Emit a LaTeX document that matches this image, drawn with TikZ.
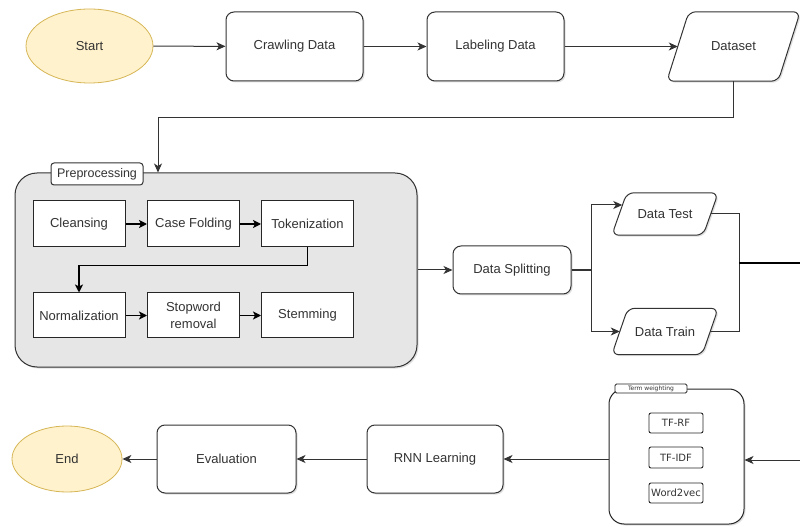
\documentclass[tikz,border=0pt]{standalone}
\usepackage{fontspec}
\setmainfont{Liberation Sans}
\newfontfamily\hand{DejaVu Sans}
\usetikzlibrary{arrows.meta,shadows,backgrounds,shapes.geometric}
\definecolor{startfill}{HTML}{FFF2CC}
\definecolor{startdraw}{HTML}{D6B656}
\definecolor{prepfill}{HTML}{E6E6E6}
\definecolor{txt}{HTML}{333333}
\tikzset{
  shad/.style={drop shadow={opacity=0.25,shadow xshift=1.5pt,shadow yshift=-1.5pt}},
  procbox/.style={rectangle,rounded corners=8pt,draw=black!80,line width=1pt,fill=white,
    inner sep=0pt,font=\fontsize{13}{15}\selectfont,text=txt,shad},
  termbox/.style={ellipse,fill=startfill,draw=startdraw,line width=0.8pt,inner sep=0pt,
    font=\fontsize{13}{15}\selectfont,text=txt},
  iotext/.style={rectangle,inner sep=0pt,font=\fontsize{13}{15}\selectfont,text=txt},
  ioshape/.style={rounded corners=7pt,draw=black!80,line width=1pt,fill=white,shad},
  innerbox/.style={rectangle,draw=black!85,line width=1pt,fill=white,inner sep=0pt,
    font=\fontsize{13}{15}\selectfont,text=txt,align=center},
  smallbox/.style={rectangle,rounded corners=2pt,draw=black!85,line width=0.9pt,fill=white,inner sep=0pt,
    font=\hand\fontsize{10}{12}\selectfont,text=txt},
  conn/.style={draw=black!80,line width=1pt},
  arr/.style={conn,-{Stealth[length=9pt,width=8pt,inset=2.5pt]}},
  thickarr/.style={draw=black,line width=1.8pt,-{Stealth[length=8pt,width=8pt,inset=2pt]}},
}
\newcommand{\paralleloshape}[2]{%
  \path[ioshape] ([xshift=#2]#1.north west) -- (#1.north east) -- ([xshift=-#2]#1.south east) -- (#1.south west) -- cycle;}
\begin{document}
\begin{tikzpicture}[x=1pt,y=-1pt]
\useasboundingbox (0,0) rectangle (800,526);
% top row
\node[termbox,minimum width=127pt,minimum height=74pt] (start) at (89.5,46) {Start};
\node[procbox,minimum width=137pt,minimum height=69pt] (crawl) at (294.5,46.5) {Crawling Data};
\node[procbox,minimum width=137pt,minimum height=69pt] (label) at (495.5,46.5) {Labeling Data};
\node[iotext,minimum width=133pt,minimum height=69pt] (dataset) at (733.5,46.5) {Dataset};
% preprocessing
\node[rectangle,rounded corners=22pt,draw=black!80,line width=1pt,fill=prepfill,minimum width=402pt,minimum height=194pt,shad] (prep) at (216,270) {};
\node[rectangle,rounded corners=3pt,draw=black!80,line width=1pt,fill=white,inner sep=0pt,minimum width=92pt,minimum height=22pt,font=\fontsize{12.5}{14}\selectfont,text=txt] (preplabel) at (97,174) {Preprocessing};
\node[innerbox,minimum width=92pt,minimum height=46pt] (clean) at (79,224) {Cleansing};
\node[innerbox,minimum width=92pt,minimum height=46pt] (case) at (193.5,224) {Case Folding};
\node[innerbox,minimum width=92pt,minimum height=46pt] (tok) at (307.5,224) {Tokenization};
\node[innerbox,minimum width=92pt,minimum height=45pt] (norm) at (79,315.5) {Normalization};
\node[innerbox,minimum width=92pt,minimum height=45pt,font=\fontsize{13}{17}\selectfont] (stop) at (193.5,315.5) {Stopword\\removal};
\node[innerbox,minimum width=92pt,minimum height=45pt] (stem) at (307.5,315.5) {Stemming};
% splitting
\node[procbox,minimum width=118pt,minimum height=48pt] (split) at (512,270) {Data Splitting};
\node[iotext,minimum width=106pt,minimum height=42pt] (test) at (665,214) {Data Test};
\node[iotext,minimum width=106pt,minimum height=46pt] (train) at (665,331.5) {Data Train};
% parallelogram outlines behind their texts
\begin{scope}[on background layer]
\paralleloshape{dataset}{22pt}
\paralleloshape{test}{15pt}
\paralleloshape{train}{16pt}
\end{scope}
% term weighting
\node[rectangle,rounded corners=15pt,draw=black!85,line width=1pt,fill=white,minimum width=135pt,minimum height=135pt,shad] (tw) at (676.5,456.5) {};
\node[rectangle,rounded corners=1.5pt,draw=black!85,line width=0.8pt,fill=white,inner sep=0pt,minimum width=72pt,minimum height=9pt,font=\hand\fontsize{6}{7}\selectfont,text=txt] (twlabel) at (651,388.5) {Term weighting};
\node[smallbox,minimum width=54pt,minimum height=20pt] (tfrf) at (676,423) {TF-RF};
\node[smallbox,minimum width=54pt,minimum height=21pt] (tfidf) at (676,457.5) {TF-IDF};
\node[smallbox,minimum width=54pt,minimum height=20pt] (w2v) at (676,493) {Word2vec};
% bottom row
\node[procbox,minimum width=136pt,minimum height=68pt] (rnn) at (435,459) {RNN Learning};
\node[procbox,minimum width=139pt,minimum height=68pt] (eval) at (226.5,459) {Evaluation};
\node[termbox,minimum width=110pt,minimum height=66pt] (end) at (67,459) {End};
% coordinates
\coordinate (br) at (591,270);
\coordinate (jn) at (739,263);
\coordinate (outR) at (800,263);
\coordinate (inR) at (800,460);
% connectors
\draw[arr] (start) -- (crawl);
\draw[arr] (crawl) -- (label);
\draw[arr] (label) -- ([xshift=11pt]dataset.west);
\draw[conn] (dataset.south -| dataset.center) -- ++(0,36) coordinate (d1);
\draw[arr] (d1) -| ([xshift=-58pt]prep.north);
\draw[thickarr] (clean) -- (case);
\draw[thickarr] (case) -- (tok);
\draw[thickarr] (tok.south) -- ++(0,18) -| (norm.north);
\draw[thickarr] (norm) -- (stop);
\draw[thickarr] (stop) -- (stem);
\draw[arr] (prep.east) -- (split.west);
\draw[conn,line width=1.6pt] (split.east) -- (br);
\draw[arr] (br) |- ([xshift=10.5pt,yshift=9pt]test.west);
\draw[arr] (br) |- ([xshift=8pt]train.west);
\draw[conn] ([xshift=-7.5pt]test.east) -| (jn);
\draw[conn] ([xshift=-8pt]train.east) -| (jn);
\draw[draw=black,line width=2pt] (jn) -- (outR);
\draw[arr] (inR) -- (tw.east |- inR);
\draw[arr] (rnn.east -| tw.west) -- (rnn.east);
\draw[arr] (rnn) -- (eval);
\draw[arr] (eval) -- (end);
\end{tikzpicture}
\end{document}
